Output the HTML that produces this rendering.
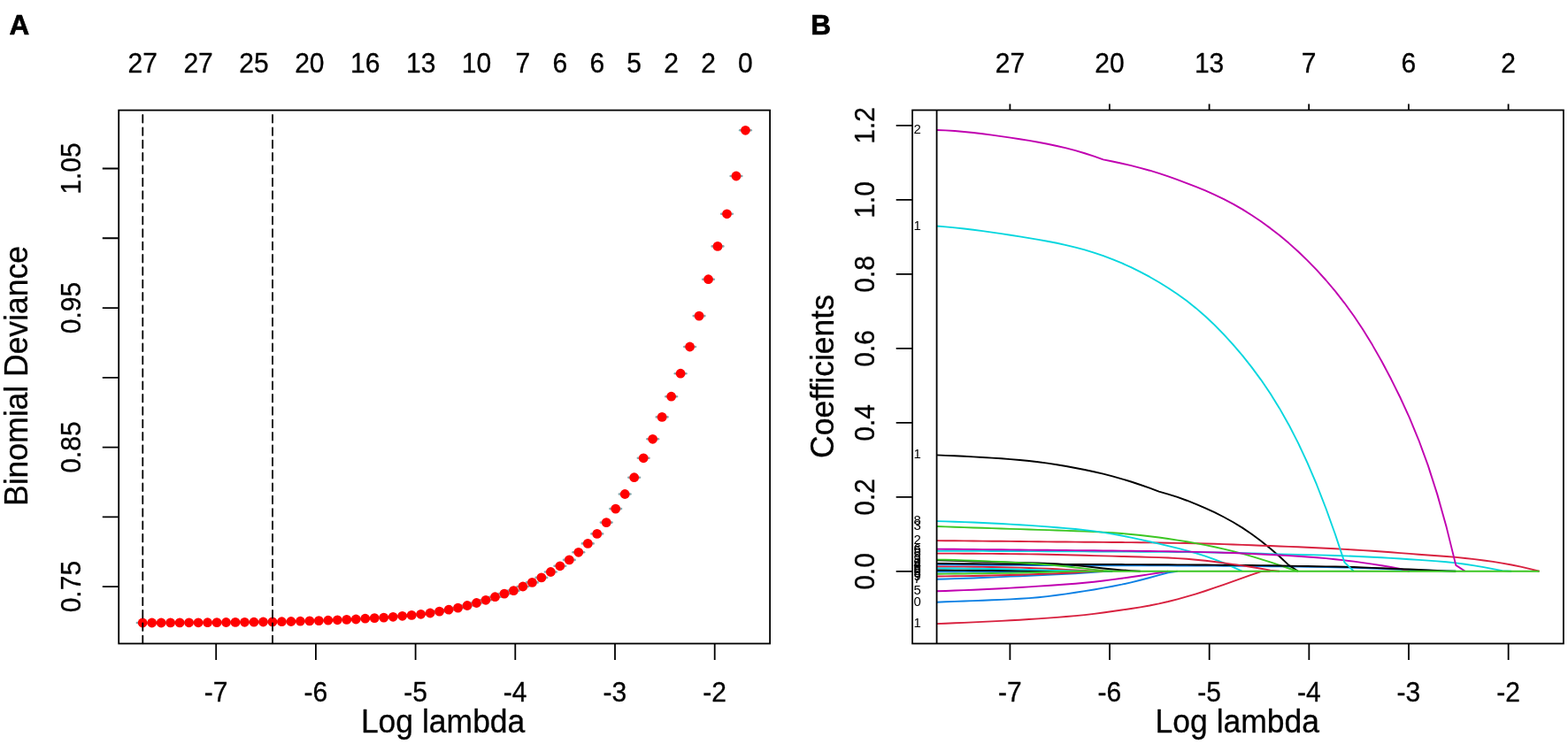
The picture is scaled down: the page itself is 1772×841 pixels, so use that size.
<!DOCTYPE html>
<html lang="en"><head><meta charset="utf-8"><title>LASSO cross-validation and coefficient profiles</title>
<style>html,body{margin:0;padding:0;background:#fff;overflow:hidden}svg{display:block}text{font-family:"Liberation Sans", sans-serif;fill:#000}</style></head><body>
<svg width="1772" height="841" viewBox="0 0 1772 841" role="img" aria-label="LASSO cross-validation deviance (A) and coefficient profiles (B)">
<rect x="0" y="0" width="1772" height="841" fill="#fff"/>
<g id="panelA">
<text transform="translate(10.6 38.9) scale(1 1.02)" font-size="31.5" font-weight="bold" stroke="#000" stroke-width="0.7" stroke-linejoin="round">A</text>
<text transform="translate(161.2 81.7) scale(1 1.06)" font-size="30" text-anchor="middle" stroke="#000" stroke-width="0.3" stroke-linejoin="round">27</text>
<text transform="translate(224.09 81.7) scale(1 1.06)" font-size="30" text-anchor="middle" stroke="#000" stroke-width="0.3" stroke-linejoin="round">27</text>
<text transform="translate(286.97 81.7) scale(1 1.06)" font-size="30" text-anchor="middle" stroke="#000" stroke-width="0.3" stroke-linejoin="round">25</text>
<text transform="translate(349.86 81.7) scale(1 1.06)" font-size="30" text-anchor="middle" stroke="#000" stroke-width="0.3" stroke-linejoin="round">20</text>
<text transform="translate(412.74 81.7) scale(1 1.06)" font-size="30" text-anchor="middle" stroke="#000" stroke-width="0.3" stroke-linejoin="round">16</text>
<text transform="translate(475.63 81.7) scale(1 1.06)" font-size="30" text-anchor="middle" stroke="#000" stroke-width="0.3" stroke-linejoin="round">13</text>
<text transform="translate(538.52 81.7) scale(1 1.06)" font-size="30" text-anchor="middle" stroke="#000" stroke-width="0.3" stroke-linejoin="round">10</text>
<text transform="translate(590.92 81.7) scale(1 1.06)" font-size="30" text-anchor="middle" stroke="#000" stroke-width="0.3" stroke-linejoin="round">7</text>
<text transform="translate(632.85 81.7) scale(1 1.06)" font-size="30" text-anchor="middle" stroke="#000" stroke-width="0.3" stroke-linejoin="round">6</text>
<text transform="translate(674.77 81.7) scale(1 1.06)" font-size="30" text-anchor="middle" stroke="#000" stroke-width="0.3" stroke-linejoin="round">6</text>
<text transform="translate(716.69 81.7) scale(1 1.06)" font-size="30" text-anchor="middle" stroke="#000" stroke-width="0.3" stroke-linejoin="round">5</text>
<text transform="translate(758.62 81.7) scale(1 1.06)" font-size="30" text-anchor="middle" stroke="#000" stroke-width="0.3" stroke-linejoin="round">2</text>
<text transform="translate(800.54 81.7) scale(1 1.06)" font-size="30" text-anchor="middle" stroke="#000" stroke-width="0.3" stroke-linejoin="round">2</text>
<text transform="translate(842.46 81.7) scale(1 1.06)" font-size="30" text-anchor="middle" stroke="#000" stroke-width="0.3" stroke-linejoin="round">0</text>
<g stroke="#86A9AE" stroke-width="2.6" stroke-linecap="round" fill="none">
<path d="M154.9 704H167.5"/>
<path d="M165.38 704H177.98"/>
<path d="M175.86 704H188.46"/>
<path d="M186.34 703.9H198.94"/>
<path d="M196.82 703.9H209.42"/>
<path d="M207.3 703.8H219.91"/>
<path d="M217.79 703.8H230.39"/>
<path d="M228.27 703.7H240.87"/>
<path d="M238.75 703.6H251.35"/>
<path d="M249.23 703.5H261.83"/>
<path d="M259.71 703.4H272.31"/>
<path d="M270.19 703.3H282.79"/>
<path d="M280.67 703.2H293.27"/>
<path d="M291.15 703H303.75"/>
<path d="M301.63 702.9H314.23"/>
<path d="M312.11 702.7H324.71"/>
<path d="M322.6 702.5H335.2"/>
<path d="M333.08 702.2H345.68"/>
<path d="M343.56 701.9H356.16"/>
<path d="M354.04 701.6H366.64"/>
<path d="M364.52 701.2H377.12"/>
<path d="M375 700.8H387.6"/>
<path d="M385.48 700.4H398.08"/>
<path d="M395.96 700H408.56"/>
<path d="M406.44 699.2H419.04"/>
<path d="M416.92 698.6H429.52"/>
<path d="M427.41 698.1H440.01"/>
<path d="M437.89 697.3H450.49"/>
<path d="M448.37 696.3H460.97"/>
<path d="M458.85 695.4H471.45"/>
<path d="M469.33 694.3H481.93"/>
<path d="M479.81 693H492.41"/>
<path d="M490.29 691.1H502.89"/>
<path d="M500.77 689.2H513.37"/>
<path d="M511.25 687.1H523.85"/>
<path d="M521.74 684.5H534.33"/>
<path d="M532.22 681.5H544.82"/>
<path d="M542.7 678.3H555.3"/>
<path d="M553.18 674.7H565.78"/>
<path d="M563.66 671.1H576.26"/>
<path d="M574.14 667.6H586.74"/>
<path d="M584.62 663H597.22"/>
<path d="M595.1 658.4H607.7"/>
<path d="M605.58 652.9H618.18"/>
<path d="M616.06 646.5H628.66"/>
<path d="M626.55 639.8H639.14"/>
<path d="M637.03 632.9H649.63"/>
<path d="M647.51 624.3H660.11"/>
<path d="M657.99 614.4H670.59"/>
<path d="M668.47 603.4H681.07"/>
<path d="M678.95 590.6H691.55"/>
<path d="M689.43 575.1H702.03"/>
<path d="M699.91 558.5H712.51"/>
<path d="M710.39 539.7H722.99"/>
<path d="M720.87 517.8H733.47"/>
<path d="M731.36 496.3H743.95"/>
<path d="M741.84 471.4H754.44"/>
<path d="M752.32 448.2H764.92"/>
<path d="M762.8 422.2H775.4"/>
<path d="M773.28 392H785.88"/>
<path d="M783.76 357.1H796.36"/>
<path d="M794.24 315.7H806.84"/>
<path d="M804.72 278.4H817.32"/>
<path d="M815.2 241.8H827.8"/>
<path d="M825.68 199H838.28"/>
<path d="M836.16 147.3H848.76"/>
</g>
<g fill="#FF0000">
<circle cx="161.2" cy="704" r="5.4"/>
<circle cx="171.68" cy="704" r="5.4"/>
<circle cx="182.16" cy="704" r="5.4"/>
<circle cx="192.64" cy="703.9" r="5.4"/>
<circle cx="203.12" cy="703.9" r="5.4"/>
<circle cx="213.6" cy="703.8" r="5.4"/>
<circle cx="224.09" cy="703.8" r="5.4"/>
<circle cx="234.57" cy="703.7" r="5.4"/>
<circle cx="245.05" cy="703.6" r="5.4"/>
<circle cx="255.53" cy="703.5" r="5.4"/>
<circle cx="266.01" cy="703.4" r="5.4"/>
<circle cx="276.49" cy="703.3" r="5.4"/>
<circle cx="286.97" cy="703.2" r="5.4"/>
<circle cx="297.45" cy="703" r="5.4"/>
<circle cx="307.93" cy="702.9" r="5.4"/>
<circle cx="318.41" cy="702.7" r="5.4"/>
<circle cx="328.9" cy="702.5" r="5.4"/>
<circle cx="339.38" cy="702.2" r="5.4"/>
<circle cx="349.86" cy="701.9" r="5.4"/>
<circle cx="360.34" cy="701.6" r="5.4"/>
<circle cx="370.82" cy="701.2" r="5.4"/>
<circle cx="381.3" cy="700.8" r="5.4"/>
<circle cx="391.78" cy="700.4" r="5.4"/>
<circle cx="402.26" cy="700" r="5.4"/>
<circle cx="412.74" cy="699.2" r="5.4"/>
<circle cx="423.22" cy="698.6" r="5.4"/>
<circle cx="433.71" cy="698.1" r="5.4"/>
<circle cx="444.19" cy="697.3" r="5.4"/>
<circle cx="454.67" cy="696.3" r="5.4"/>
<circle cx="465.15" cy="695.4" r="5.4"/>
<circle cx="475.63" cy="694.3" r="5.4"/>
<circle cx="486.11" cy="693" r="5.4"/>
<circle cx="496.59" cy="691.1" r="5.4"/>
<circle cx="507.07" cy="689.2" r="5.4"/>
<circle cx="517.55" cy="687.1" r="5.4"/>
<circle cx="528.03" cy="684.5" r="5.4"/>
<circle cx="538.52" cy="681.5" r="5.4"/>
<circle cx="549" cy="678.3" r="5.4"/>
<circle cx="559.48" cy="674.7" r="5.4"/>
<circle cx="569.96" cy="671.1" r="5.4"/>
<circle cx="580.44" cy="667.6" r="5.4"/>
<circle cx="590.92" cy="663" r="5.4"/>
<circle cx="601.4" cy="658.4" r="5.4"/>
<circle cx="611.88" cy="652.9" r="5.4"/>
<circle cx="622.36" cy="646.5" r="5.4"/>
<circle cx="632.85" cy="639.8" r="5.4"/>
<circle cx="643.33" cy="632.9" r="5.4"/>
<circle cx="653.81" cy="624.3" r="5.4"/>
<circle cx="664.29" cy="614.4" r="5.4"/>
<circle cx="674.77" cy="603.4" r="5.4"/>
<circle cx="685.25" cy="590.6" r="5.4"/>
<circle cx="695.73" cy="575.1" r="5.4"/>
<circle cx="706.21" cy="558.5" r="5.4"/>
<circle cx="716.69" cy="539.7" r="5.4"/>
<circle cx="727.17" cy="517.8" r="5.4"/>
<circle cx="737.65" cy="496.3" r="5.4"/>
<circle cx="748.14" cy="471.4" r="5.4"/>
<circle cx="758.62" cy="448.2" r="5.4"/>
<circle cx="769.1" cy="422.2" r="5.4"/>
<circle cx="779.58" cy="392" r="5.4"/>
<circle cx="790.06" cy="357.1" r="5.4"/>
<circle cx="800.54" cy="315.7" r="5.4"/>
<circle cx="811.02" cy="278.4" r="5.4"/>
<circle cx="821.5" cy="241.8" r="5.4"/>
<circle cx="831.98" cy="199" r="5.4"/>
<circle cx="842.46" cy="147.3" r="5.4"/>
</g>
<path d="M161.3 727.5V124.6" stroke="#000" stroke-width="1.8" stroke-dasharray="8.6 5.76" stroke-dashoffset="-0.2" stroke-linecap="round" fill="none"/>
<path d="M308 727.5V124.6" stroke="#000" stroke-width="1.8" stroke-dasharray="8.6 5.76" stroke-dashoffset="-0.2" stroke-linecap="round" fill="none"/>
<rect x="134.2" y="124.6" width="735.9" height="602.9" fill="none" stroke="#000" stroke-width="1.8"/>
<path d="M244.2 727.5V745.9M356.9 727.5V745.9M469.6 727.5V745.9M582.3 727.5V745.9M695 727.5V745.9M807.7 727.5V745.9M134.2 190.5H115.8M134.2 269.27H115.8M134.2 348.04H115.8M134.2 426.81H115.8M134.2 505.58H115.8M134.2 584.35H115.8M134.2 663.12H115.8" stroke="#000" stroke-width="1.8" fill="none"/>
<text transform="translate(244.1 792.75) scale(1 1.06)" font-size="30" text-anchor="middle" stroke="#000" stroke-width="0.3" stroke-linejoin="round">-7</text>
<text transform="translate(356.8 792.75) scale(1 1.06)" font-size="30" text-anchor="middle" stroke="#000" stroke-width="0.3" stroke-linejoin="round">-6</text>
<text transform="translate(469.5 792.75) scale(1 1.06)" font-size="30" text-anchor="middle" stroke="#000" stroke-width="0.3" stroke-linejoin="round">-5</text>
<text transform="translate(582.2 792.75) scale(1 1.06)" font-size="30" text-anchor="middle" stroke="#000" stroke-width="0.3" stroke-linejoin="round">-4</text>
<text transform="translate(694.9 792.75) scale(1 1.06)" font-size="30" text-anchor="middle" stroke="#000" stroke-width="0.3" stroke-linejoin="round">-3</text>
<text transform="translate(807.6 792.75) scale(1 1.06)" font-size="30" text-anchor="middle" stroke="#000" stroke-width="0.3" stroke-linejoin="round">-2</text>
<text transform="translate(91.4 190.5) rotate(-90) scale(1 1.06)" font-size="30" text-anchor="middle" stroke="#000" stroke-width="0.3" stroke-linejoin="round">1.05</text>
<text transform="translate(91.4 348.04) rotate(-90) scale(1 1.06)" font-size="30" text-anchor="middle" stroke="#000" stroke-width="0.3" stroke-linejoin="round">0.95</text>
<text transform="translate(91.4 505.58) rotate(-90) scale(1 1.06)" font-size="30" text-anchor="middle" stroke="#000" stroke-width="0.3" stroke-linejoin="round">0.85</text>
<text transform="translate(91.4 663.12) rotate(-90) scale(1 1.06)" font-size="30" text-anchor="middle" stroke="#000" stroke-width="0.3" stroke-linejoin="round">0.75</text>
<text transform="translate(500.6 827.6) scale(1 1.02)" font-size="35.5" text-anchor="middle" stroke="#000" stroke-width="0.3" stroke-linejoin="round">Log lambda</text>
<text transform="translate(30.6 425) rotate(-90) scale(1 1.02)" font-size="35.5" text-anchor="middle" stroke="#000" stroke-width="0.3" stroke-linejoin="round">Binomial Deviance</text>
</g>
<g id="panelB">
<text transform="translate(916.2 38.9) scale(1 1.02)" font-size="31.5" font-weight="bold" stroke="#000" stroke-width="0.7" stroke-linejoin="round">B</text>
<text transform="translate(1141.4 81.7) scale(1 1.06)" font-size="30" text-anchor="middle" stroke="#000" stroke-width="0.3" stroke-linejoin="round">27</text>
<text transform="translate(1253.9 81.7) scale(1 1.06)" font-size="30" text-anchor="middle" stroke="#000" stroke-width="0.3" stroke-linejoin="round">20</text>
<text transform="translate(1366.6 81.7) scale(1 1.06)" font-size="30" text-anchor="middle" stroke="#000" stroke-width="0.3" stroke-linejoin="round">13</text>
<text transform="translate(1479.2 81.7) scale(1 1.06)" font-size="30" text-anchor="middle" stroke="#000" stroke-width="0.3" stroke-linejoin="round">7</text>
<text transform="translate(1591.9 81.7) scale(1 1.06)" font-size="30" text-anchor="middle" stroke="#000" stroke-width="0.3" stroke-linejoin="round">6</text>
<text transform="translate(1704.6 81.7) scale(1 1.06)" font-size="30" text-anchor="middle" stroke="#000" stroke-width="0.3" stroke-linejoin="round">2</text>
<clipPath id="cb"><rect x="1031.1" y="124.5" width="735.8" height="603"/></clipPath>
<g fill="none" stroke-width="1.9" stroke-linejoin="round" stroke-linecap="butt" clip-path="url(#cb)">
<path d="M1058 638.3L1068.49 638.39 1078.97 638.47 1089.46 638.55 1099.95 638.62 1110.43 638.69 1120.92 638.75 1131.41 638.81 1141.9 638.86 1152.38 638.91 1162.87 638.95 1173.36 638.99 1183.84 639.02 1194.33 639.05 1204.82 639.07 1215.31 639.1 1225.79 639.13 1236.28 639.16 1246.77 639.19 1257.25 639.22 1267.74 639.25 1278.23 639.29 1288.71 639.32 1299.2 639.35 1309.69 639.38 1320.17 639.42 1330.66 639.46 1341.15 639.51 1351.64 639.55 1362.12 639.6 1372.61 639.66 1383.1 639.72 1393.58 639.79 1404.07 639.87 1414.56 639.96 1425.05 640.07 1435.53 640.19 1446.02 640.32 1456.51 640.46 1466.99 640.61 1477.48 640.76 1487.97 640.91 1498.45 641.07 1508.94 641.25 1519.43 641.48 1529.91 641.76 1540.4 642.11 1550.89 642.51 1561.38 642.92 1571.86 643.34 1582.35 643.74 1592.84 644.12 1603.32 644.48 1613.81 644.82 1624.3 645.14 1634.78 645.45 1645.27 645.71" stroke="#0C80E4"/>
<path d="M1058 514.4L1068.49 514.83 1078.97 515.3 1089.46 515.81 1099.95 516.36 1110.43 516.95 1120.92 517.6 1131.41 518.31 1141.9 519.11 1152.38 520.02 1162.87 521.07 1173.36 522.28 1183.84 523.68 1194.33 525.27 1204.82 527.03 1215.31 528.95 1225.79 531.01 1236.28 533.25 1246.77 535.69 1257.25 538.38 1267.74 541.32 1278.23 544.53 1288.71 547.98 1299.2 551.67 1309.69 555.55 1320.17 558.57 1330.66 561.96 1341.15 565.74 1351.64 569.87 1362.12 574.35 1372.61 579.21 1383.1 584.49 1393.58 590.26 1404.07 596.63 1414.56 603.68 1425.05 611.44 1435.53 619.91 1446.02 629.06 1456.51 638.9 1466.99 645.75" stroke="#000000"/>
<path d="M1058 611.1L1068.49 611.21 1078.97 611.31 1089.46 611.41 1099.95 611.52 1110.43 611.62 1120.92 611.72 1131.41 611.82 1141.9 611.92 1152.38 612.03 1162.87 612.13 1173.36 612.23 1183.84 612.33 1194.33 612.43 1204.82 612.52 1215.31 612.61 1225.79 612.7 1236.28 612.79 1246.77 612.88 1257.25 612.97 1267.74 613.07 1278.23 613.17 1288.71 613.29 1299.2 613.41 1309.69 613.55 1320.17 613.7 1330.66 613.87 1341.15 614.06 1351.64 614.27 1362.12 614.51 1372.61 614.8 1383.1 615.14 1393.58 615.51 1404.07 615.89 1414.56 616.29 1425.05 616.68 1435.53 617.06 1446.02 617.44 1456.51 617.83 1466.99 618.25 1477.48 618.69 1487.97 619.18 1498.45 619.7 1508.94 620.26 1519.43 620.86 1529.91 621.48 1540.4 622.13 1550.89 622.82 1561.38 623.54 1571.86 624.31 1582.35 625.11 1592.84 625.91 1603.32 626.71 1613.81 627.48 1624.3 628.24 1634.78 629.04 1645.27 629.92 1655.76 630.94 1666.25 632.12 1676.73 633.45 1687.22 634.92 1697.71 636.57 1708.19 638.46 1718.68 640.66 1729.17 643.2 1739.65 645.74" stroke="#D8213F"/>
<path d="M1058 595L1068.49 595.36 1078.97 595.72 1089.46 596.08 1099.95 596.44 1110.43 596.79 1120.92 597.15 1131.41 597.49 1141.9 597.83 1152.38 598.17 1162.87 598.5 1173.36 598.83 1183.84 599.17 1194.33 599.52 1204.82 599.87 1215.31 600.24 1225.79 600.64 1236.28 601.1 1246.77 601.63 1257.25 602.28 1267.74 603.04 1278.23 603.95 1288.71 604.99 1299.2 606.19 1309.69 607.53 1320.17 609.01 1330.66 610.59 1341.15 612.28 1351.64 614.09 1362.12 616.06 1372.61 618.21 1383.1 620.56 1393.58 623.13 1404.07 625.92 1414.56 628.9 1425.05 632.06 1435.53 635.38 1446.02 638.86 1456.51 642.5 1466.99 645.75" stroke="#3CC623"/>
<path d="M1058 680.7L1068.49 680.32 1078.97 679.92 1089.46 679.51 1099.95 679.1 1110.43 678.69 1120.92 678.27 1131.41 677.84 1141.9 677.38 1152.38 676.82 1162.87 676.12 1173.36 675.22 1183.84 674.1 1194.33 672.8 1204.82 671.34 1215.31 669.77 1225.79 668.13 1236.28 666.44 1246.77 664.68 1257.25 662.79 1267.74 660.68 1278.23 658.31 1288.71 655.71 1299.2 652.96 1309.69 650.13 1320.17 647.26 1330.66 645.75" stroke="#0C80E4"/>
<path d="M1058 589.1L1068.49 589.4 1078.97 589.74 1089.46 590.13 1099.95 590.55 1110.43 591.01 1120.92 591.51 1131.41 592.03 1141.9 592.6 1152.38 593.21 1162.87 593.88 1173.36 594.6 1183.84 595.38 1194.33 596.21 1204.82 597.09 1215.31 598.06 1225.79 599.14 1236.28 600.39 1246.77 601.86 1257.25 603.57 1267.74 605.51 1278.23 607.65 1288.71 609.91 1299.2 612.26 1309.69 614.66 1320.17 617.11 1330.66 619.65 1341.15 622.35 1351.64 625.3 1362.12 628.62 1372.61 632.33 1383.1 636.49 1393.58 641.08 1404.07 645.75" stroke="#06D6DE"/>
<path d="M1058 622.7L1068.49 622.74 1078.97 622.77 1089.46 622.81 1099.95 622.85 1110.43 622.89 1120.92 622.94 1131.41 622.98 1141.9 623.02 1152.38 623.07 1162.87 623.11 1173.36 623.15 1183.84 623.2 1194.33 623.25 1204.82 623.29 1215.31 623.34 1225.79 623.39 1236.28 623.44 1246.77 623.48 1257.25 623.53 1267.74 623.58 1278.23 623.63 1288.71 623.69 1299.2 623.76 1309.69 623.84 1320.17 623.92 1330.66 624.01 1341.15 624.11 1351.64 624.23 1362.12 624.35 1372.61 624.5 1383.1 624.68 1393.58 624.9 1404.07 625.16 1414.56 625.46 1425.05 625.79 1435.53 626.11 1446.02 626.4 1456.51 626.65 1466.99 626.86 1477.48 627.08 1487.97 627.33 1498.45 627.63 1508.94 627.98 1519.43 628.37 1529.91 628.8 1540.4 629.26 1550.89 629.76 1561.38 630.31 1571.86 630.9 1582.35 631.52 1592.84 632.18 1603.32 632.86 1613.81 633.58 1624.3 634.38 1634.78 635.31 1645.27 636.42 1655.76 637.77 1666.25 639.34 1676.73 641.12 1687.22 643.06 1697.71 645.12 1708.19 645.75" stroke="#06D6DE"/>
<path d="M1058 620.6L1068.49 620.7 1078.97 620.8 1089.46 620.9 1099.95 621 1110.43 621.1 1120.92 621.2 1131.41 621.3 1141.9 621.4 1152.38 621.5 1162.87 621.61 1173.36 621.71 1183.84 621.82 1194.33 621.92 1204.82 622.02 1215.31 622.12 1225.79 622.23 1236.28 622.32 1246.77 622.43 1257.25 622.53 1267.74 622.64 1278.23 622.76 1288.71 622.88 1299.2 623.02 1309.69 623.16 1320.17 623.32 1330.66 623.48 1341.15 623.67 1351.64 623.87 1362.12 624.1 1372.61 624.37 1383.1 624.69 1393.58 625.05 1404.07 625.46 1414.56 625.93 1425.05 626.44 1435.53 626.99 1446.02 627.56 1456.51 628.14 1466.99 628.76 1477.48 629.44 1487.97 630.23 1498.45 631.14 1508.94 632.19 1519.43 633.37 1529.91 634.68 1540.4 636.09 1550.89 637.6 1561.38 639.21 1571.86 640.96 1582.35 642.87 1592.84 645.75" stroke="#C000B0"/>
<path d="M1058 636.9L1068.49 637 1078.97 637.09 1089.46 637.18 1099.95 637.27 1110.43 637.35 1120.92 637.42 1131.41 637.49 1141.9 637.55 1152.38 637.61 1162.87 637.66 1173.36 637.71 1183.84 637.75 1194.33 637.79 1204.82 637.83 1215.31 637.87 1225.79 637.91 1236.28 637.95 1246.77 637.99 1257.25 638.03 1267.74 638.07 1278.23 638.11 1288.71 638.16 1299.2 638.2 1309.69 638.25 1320.17 638.3 1330.66 638.35 1341.15 638.41 1351.64 638.47 1362.12 638.53 1372.61 638.6 1383.1 638.68 1393.58 638.76 1404.07 638.86 1414.56 638.98 1425.05 639.13 1435.53 639.29 1446.02 639.48 1456.51 639.67 1466.99 639.86 1477.48 640.05 1487.97 640.21 1498.45 640.38 1508.94 640.56 1519.43 640.78 1529.91 641.07 1540.4 641.44 1550.89 641.85 1561.38 642.3 1571.86 642.74 1582.35 643.16 1592.84 643.56 1603.32 643.96 1613.81 644.39 1624.3 644.85 1634.78 645.36 1645.27 645.75" stroke="#000000"/>
<path d="M1058 625.6L1068.49 625.61 1078.97 625.64 1089.46 625.69 1099.95 625.76 1110.43 625.83 1120.92 625.92 1131.41 626.01 1141.9 626.11 1152.38 626.23 1162.87 626.37 1173.36 626.55 1183.84 626.75 1194.33 626.99 1204.82 627.25 1215.31 627.52 1225.79 627.81 1236.28 628.09 1246.77 628.38 1257.25 628.66 1267.74 628.95 1278.23 629.24 1288.71 629.53 1299.2 629.83 1309.69 630.16 1320.17 630.57 1330.66 631.12 1341.15 631.82 1351.64 632.7 1362.12 633.74 1372.61 634.96 1383.1 636.32 1393.58 637.82 1404.07 639.39 1414.56 641.04 1425.05 642.77 1435.53 644.58 1446.02 645.75" stroke="#D8213F"/>
<path d="M1058 633.3L1068.49 633.58 1078.97 633.87 1089.46 634.16 1099.95 634.46 1110.43 634.76 1120.92 635.06 1131.41 635.36 1141.9 635.64 1152.38 635.91 1162.87 636.18 1173.36 636.5 1183.84 636.9 1194.33 637.44 1204.82 638.16 1215.31 639.07 1225.79 640.14 1236.28 641.31 1246.77 642.47 1257.25 643.52 1267.74 644.41 1278.23 645.14 1288.71 645.75" stroke="#000000"/>
<path d="M1058 632.6L1068.49 632.79 1078.97 633.05 1089.46 633.36 1099.95 633.73 1110.43 634.15 1120.92 634.6 1131.41 635.07 1141.9 635.58 1152.38 636.12 1162.87 636.73 1173.36 637.43 1183.84 638.24 1194.33 639.19 1204.82 640.27 1215.31 641.45 1225.79 642.66 1236.28 643.85 1246.77 644.99 1257.25 645.75" stroke="#3CC623"/>
<path d="M1058 646.2L1068.49 646.19 1078.97 646.18 1089.46 646.16 1099.95 646.14 1110.43 646.12 1120.92 646.09 1131.41 646.06 1141.9 646.03 1152.38 645.99 1162.87 645.93 1173.36 645.87 1183.84 645.8" stroke="#0C80E4"/>
<path d="M1058 255.5L1068.49 256.4 1078.97 257.42 1089.46 258.56 1099.95 259.81 1110.43 261.17 1120.92 262.62 1131.41 264.15 1141.9 265.73 1152.38 267.38 1162.87 269.08 1173.36 270.86 1183.84 272.75 1194.33 274.8 1204.82 277.06 1215.31 279.59 1225.79 282.42 1236.28 285.59 1246.77 289.14 1257.25 293.08 1267.74 297.42 1278.23 302.19 1288.71 307.36 1299.2 312.95 1309.69 318.96 1320.17 325.44 1330.66 332.45 1341.15 340.07 1351.64 348.4 1362.12 357.48 1372.61 367.37 1383.1 378.06 1393.58 389.56 1404.07 401.88 1414.56 415.09 1425.05 429.32 1435.53 444.77 1446.02 461.65 1456.51 480.19 1466.99 500.59 1477.48 523.06 1487.97 547.74 1498.45 574.72 1508.94 604.02 1519.43 635.64 1529.91 645.75" stroke="#06D6DE"/>
<path d="M1058 147L1068.49 147.34 1078.97 148 1089.46 148.94 1099.95 150.06 1110.43 151.31 1120.92 152.65 1131.41 154.07 1141.9 155.6 1152.38 157.21 1162.87 158.93 1173.36 160.76 1183.84 162.75 1194.33 164.96 1204.82 167.42 1215.31 170.19 1225.79 173.27 1236.28 176.67 1246.77 180.37 1257.25 182.51 1267.74 184.76 1278.23 187.17 1288.71 189.8 1299.2 192.71 1309.69 195.91 1320.17 199.39 1330.66 203.12 1341.15 207.05 1351.64 211.16 1362.12 215.48 1372.61 220.09 1383.1 225.1 1393.58 230.61 1404.07 236.66 1414.56 243.22 1425.05 250.29 1435.53 257.89 1446.02 266.06 1456.51 274.84 1466.99 284.26 1477.48 294.35 1487.97 305.16 1498.45 316.74 1508.94 329.18 1519.43 342.56 1529.91 357.02 1540.4 372.76 1550.89 389.86 1561.38 408.31 1571.86 428.07 1582.35 449.24 1592.84 472.18 1603.32 497.54 1613.81 526.14 1624.3 558.87 1634.78 596.36 1645.27 638.86 1655.76 645.75" stroke="#C000B0"/>
<path d="M1058 640.5L1068.49 640.52 1078.97 640.58 1089.46 640.67 1099.95 640.78 1110.43 640.92 1120.92 641.07 1131.41 641.24 1141.9 641.43 1152.38 641.67 1162.87 641.97 1173.36 642.35 1183.84 642.79 1194.33 643.29 1204.82 643.84 1215.31 644.41 1225.79 645.03 1236.28 645.68 1246.77 645.75" stroke="#D8213F"/>
<path d="M1058 644.5L1068.49 644.53 1078.97 644.58 1089.46 644.63 1099.95 644.7 1110.43 644.77 1120.92 644.85 1131.41 644.93 1141.9 645.03 1152.38 645.14 1162.87 645.28 1173.36 645.44 1183.84 645.62 1194.33 645.73" stroke="#000000"/>
<path d="M1058 642.4L1068.49 642.44 1078.97 642.51 1089.46 642.61 1099.95 642.73 1110.43 642.88 1120.92 643.05 1131.41 643.23 1141.9 643.44 1152.38 643.68 1162.87 643.97 1173.36 644.29 1183.84 644.63 1194.33 644.96 1204.82 645.28 1215.31 645.57 1225.79 645.74" stroke="#06D6DE"/>
<path d="M1058 654.7L1068.49 654.43 1078.97 654.13 1089.46 653.8 1099.95 653.43 1110.43 653.03 1120.92 652.59 1131.41 652.13 1141.9 651.65 1152.38 651.19 1162.87 650.73 1173.36 650.28 1183.84 649.82 1194.33 649.33 1204.82 648.8 1215.31 648.23 1225.79 647.59 1236.28 646.9 1246.77 646.15 1257.25 645.75" stroke="#0C80E4"/>
<path d="M1058 668.3L1068.49 667.94 1078.97 667.55 1089.46 667.14 1099.95 666.69 1110.43 666.22 1120.92 665.72 1131.41 665.18 1141.9 664.6 1152.38 663.98 1162.87 663.34 1173.36 662.67 1183.84 661.98 1194.33 661.28 1204.82 660.53 1215.31 659.71 1225.79 658.77 1236.28 657.69 1246.77 656.49 1257.25 655.16 1267.74 653.75 1278.23 652.26 1288.71 650.73 1299.2 649.16 1309.69 647.55 1320.17 645.75" stroke="#C000B0"/>
<path d="M1058 651.5L1068.49 651.4 1078.97 651.28 1089.46 651.12 1099.95 650.93 1110.43 650.73 1120.92 650.5 1131.41 650.27 1141.9 650.01 1152.38 649.73 1162.87 649.42 1173.36 649.06 1183.84 648.67 1194.33 648.23 1204.82 647.75 1215.31 647.22 1225.79 646.66 1236.28 646.05 1246.77 645.75" stroke="#D8213F"/>
<path d="M1058 705.1L1068.49 704.7 1078.97 704.28 1089.46 703.85 1099.95 703.39 1110.43 702.91 1120.92 702.41 1131.41 701.88 1141.9 701.31 1152.38 700.69 1162.87 700.04 1173.36 699.35 1183.84 698.62 1194.33 697.85 1204.82 697.02 1215.31 696.11 1225.79 695.08 1236.28 693.89 1246.77 692.54 1257.25 691.06 1267.74 689.52 1278.23 687.97 1288.71 686.33 1299.2 684.49 1309.69 682.37 1320.17 679.97 1330.66 677.3 1341.15 674.4 1351.64 671.29 1362.12 667.97 1372.61 664.45 1383.1 660.78 1393.58 657.04 1404.07 653.3 1414.56 649.64 1425.05 646.1 1435.53 645.75" stroke="#D8213F"/>
<path d="M1058 648.7L1068.49 648.63 1078.97 648.54 1089.46 648.43 1099.95 648.31 1110.43 648.18 1120.92 648.05 1131.41 647.9 1141.9 647.74 1152.38 647.54 1162.87 647.3 1173.36 647.02 1183.84 646.72 1194.33 646.41 1204.82 646.13 1215.31 645.88 1225.79 645.76 1236.28 645.75 1246.77 645.75 1257.25 645.75 1267.74 645.75 1278.23 645.75 1288.71 645.75 1299.2 645.75 1309.69 645.75 1320.17 645.75 1330.66 645.75 1341.15 645.75 1351.64 645.75 1362.12 645.75 1372.61 645.75 1383.1 645.75 1393.58 645.75 1404.07 645.75 1414.56 645.75 1425.05 645.75 1435.53 645.75 1446.02 645.75 1456.51 645.75 1466.99 645.75 1477.48 645.75 1487.97 645.75 1498.45 645.75 1508.94 645.75 1519.43 645.75 1529.91 645.75 1540.4 645.75 1550.89 645.75 1561.38 645.75 1571.86 645.75 1582.35 645.75 1592.84 645.75 1603.32 645.75 1613.81 645.75 1624.3 645.75 1634.78 645.75 1645.27 645.75 1655.76 645.75 1666.25 645.75 1676.73 645.75 1687.22 645.75 1697.71 645.75 1708.19 645.75 1718.68 645.75 1729.17 645.75 1739.65 645.75" stroke="#3CC623"/>
</g>
<g clip-path="url(#cb)">
<text transform="translate(1040.8 151)" font-size="15" text-anchor="end">2</text>
<text transform="translate(1040.8 259.5)" font-size="15" text-anchor="end">1</text>
<text transform="translate(1040.8 518.4)" font-size="15" text-anchor="end">1</text>
<text transform="translate(1040.8 593.1)" font-size="15" text-anchor="end">8</text>
<text transform="translate(1040.8 599)" font-size="15" text-anchor="end">3</text>
<text transform="translate(1040.8 615.1)" font-size="15" text-anchor="end">2</text>
<text transform="translate(1040.8 624.6)" font-size="15" text-anchor="end">6</text>
<text transform="translate(1040.8 626.7)" font-size="15" text-anchor="end">5</text>
<text transform="translate(1040.8 629.6)" font-size="15" text-anchor="end">6</text>
<text transform="translate(1040.8 636.7)" font-size="15" text-anchor="end">9</text>
<text transform="translate(1040.8 637.2)" font-size="15" text-anchor="end">3</text>
<text transform="translate(1040.8 640.7)" font-size="15" text-anchor="end">9</text>
<text transform="translate(1040.8 641.6)" font-size="15" text-anchor="end">4</text>
<text transform="translate(1040.8 644.4)" font-size="15" text-anchor="end">8</text>
<text transform="translate(1040.8 646.4)" font-size="15" text-anchor="end">3</text>
<text transform="translate(1040.8 648.1)" font-size="15" text-anchor="end">5</text>
<text transform="translate(1040.8 650)" font-size="15" text-anchor="end">6</text>
<text transform="translate(1040.8 652.6)" font-size="15" text-anchor="end">5</text>
<text transform="translate(1040.8 655.7)" font-size="15" text-anchor="end">9</text>
<text transform="translate(1040.8 658.5)" font-size="15" text-anchor="end">7</text>
<text transform="translate(1040.8 672.3)" font-size="15" text-anchor="end">5</text>
<text transform="translate(1040.8 684.7)" font-size="15" text-anchor="end">0</text>
<text transform="translate(1040.8 708.9)" font-size="15" text-anchor="end">1</text>
</g>
<path d="M1058.6 124.5V727.5" stroke="#000" stroke-width="1.8" fill="none"/>
<rect x="1031.1" y="124.5" width="735.8" height="603" fill="none" stroke="#000" stroke-width="1.8"/>
<path d="M1141.4 727.5V745.9M1254.05 727.5V745.9M1366.7 727.5V745.9M1479.35 727.5V745.9M1592 727.5V745.9M1704.65 727.5V745.9M1141.4 124.5V117.5M1253.9 124.5V117.5M1366.6 124.5V117.5M1479.2 124.5V117.5M1591.9 124.5V117.5M1704.6 124.5V117.5M1031.1 645.85H1012.7M1031.1 561.85H1012.7M1031.1 477.85H1012.7M1031.1 393.85H1012.7M1031.1 309.85H1012.7M1031.1 225.85H1012.7M1031.1 141.85H1012.7" stroke="#000" stroke-width="1.8" fill="none"/>
<text transform="translate(1141.3 792.75) scale(1 1.06)" font-size="30" text-anchor="middle" stroke="#000" stroke-width="0.3" stroke-linejoin="round">-7</text>
<text transform="translate(1253.95 792.75) scale(1 1.06)" font-size="30" text-anchor="middle" stroke="#000" stroke-width="0.3" stroke-linejoin="round">-6</text>
<text transform="translate(1366.6 792.75) scale(1 1.06)" font-size="30" text-anchor="middle" stroke="#000" stroke-width="0.3" stroke-linejoin="round">-5</text>
<text transform="translate(1479.25 792.75) scale(1 1.06)" font-size="30" text-anchor="middle" stroke="#000" stroke-width="0.3" stroke-linejoin="round">-4</text>
<text transform="translate(1591.9 792.75) scale(1 1.06)" font-size="30" text-anchor="middle" stroke="#000" stroke-width="0.3" stroke-linejoin="round">-3</text>
<text transform="translate(1704.55 792.75) scale(1 1.06)" font-size="30" text-anchor="middle" stroke="#000" stroke-width="0.3" stroke-linejoin="round">-2</text>
<text transform="translate(987.8 645.85) rotate(-90) scale(1 1.06)" font-size="30" text-anchor="middle" stroke="#000" stroke-width="0.3" stroke-linejoin="round">0.0</text>
<text transform="translate(987.8 561.85) rotate(-90) scale(1 1.06)" font-size="30" text-anchor="middle" stroke="#000" stroke-width="0.3" stroke-linejoin="round">0.2</text>
<text transform="translate(987.8 477.85) rotate(-90) scale(1 1.06)" font-size="30" text-anchor="middle" stroke="#000" stroke-width="0.3" stroke-linejoin="round">0.4</text>
<text transform="translate(987.8 393.85) rotate(-90) scale(1 1.06)" font-size="30" text-anchor="middle" stroke="#000" stroke-width="0.3" stroke-linejoin="round">0.6</text>
<text transform="translate(987.8 309.85) rotate(-90) scale(1 1.06)" font-size="30" text-anchor="middle" stroke="#000" stroke-width="0.3" stroke-linejoin="round">0.8</text>
<text transform="translate(987.8 225.85) rotate(-90) scale(1 1.06)" font-size="30" text-anchor="middle" stroke="#000" stroke-width="0.3" stroke-linejoin="round">1.0</text>
<text transform="translate(987.8 141.85) rotate(-90) scale(1 1.06)" font-size="30" text-anchor="middle" stroke="#000" stroke-width="0.3" stroke-linejoin="round">1.2</text>
<text transform="translate(1398.3 827.6) scale(1 1.02)" font-size="35.5" text-anchor="middle" stroke="#000" stroke-width="0.3" stroke-linejoin="round">Log lambda</text>
<text transform="translate(942.3 425.5) rotate(-90) scale(1 1.02)" font-size="35.5" text-anchor="middle" stroke="#000" stroke-width="0.3" stroke-linejoin="round">Coefficients</text>
</g>
</svg></body></html>
